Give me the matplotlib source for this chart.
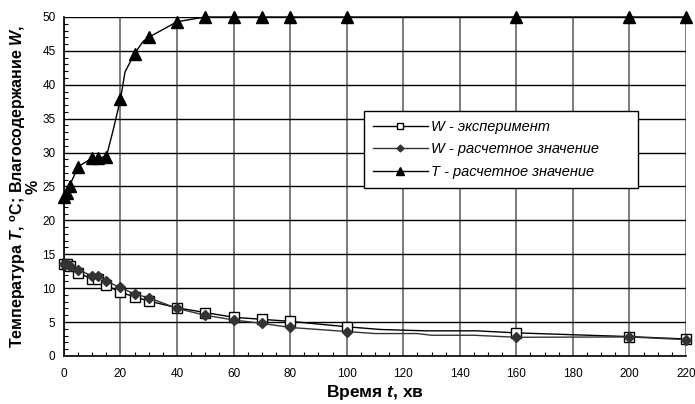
import numpy as np
import matplotlib.pyplot as plt
from matplotlib.ticker import MultipleLocator

plt.rcParams['font.family'] = ['Liberation Sans', 'DejaVu Sans']
plt.rcParams['mathtext.fontset'] = 'custom'
plt.rcParams['mathtext.rm'] = 'Liberation Sans:bold'
plt.rcParams['mathtext.it'] = 'Liberation Sans:italic:bold'

# W - experiment (line vertices, markers only at measured points)
t_wexp = [0, 1, 2, 5, 10, 12, 15, 20, 25, 30, 40, 50, 60, 70, 80, 100, 112, 128, 146, 160, 200, 220]
w_exp = [13.5, 13.5, 13.3, 12.3, 11.3, 11.3, 10.4, 9.4, 8.7, 8.1, 7.1, 6.4, 5.7, 5.4, 5.1, 4.3, 3.9, 3.7, 3.7, 3.4, 2.85, 2.5]
mk_wexp = [0, 1, 2, 3, 4, 5, 6, 7, 8, 9, 10, 11, 12, 13, 14, 15, 19, 20, 21]

# W - calculated
t_wcalc = [0, 1, 2, 5, 10, 12, 15, 20, 25, 30, 40, 50, 60, 70, 80, 100, 110, 125, 130, 145, 160, 200, 220]
w_calc = [13.6, 13.5, 13.3, 12.7, 11.8, 11.8, 11.0, 10.1, 9.1, 8.6, 7.0, 6.0, 5.3, 4.8, 4.2, 3.6, 3.3, 3.3, 3.05, 3.05, 2.75, 2.8, 2.4]
mk_wcalc = [0, 1, 2, 3, 4, 5, 6, 7, 8, 9, 10, 11, 12, 13, 14, 15, 20, 21, 22]

# T - calculated
t_temp = [0, 1, 2, 5, 10, 12, 15, 17.4, 20, 21.6, 25, 28, 30, 40, 50, 60, 70, 80, 100, 160, 200, 220]
temp = [23.5, 24.0, 25.1, 27.9, 29.2, 29.2, 29.4, 33.3, 37.9, 41.9, 44.6, 46.4, 47.0, 49.3, 50, 50, 50, 50, 50, 50, 50, 50]
mk_temp = [0, 1, 2, 3, 4, 5, 6, 8, 10, 12, 13, 14, 15, 16, 17, 18, 19, 20, 21]

fig = plt.figure(figsize=(6.95, 4.04), dpi=100)
ax = fig.add_axes([0.092, 0.119, 0.895, 0.839])

ax.plot(t_wexp, w_exp, color='black', lw=1, marker='s', ms=7, mfc='white', mec='black',
        mew=1, markevery=mk_wexp, clip_on=False, zorder=4, label='W - эксперимент')
ax.plot(t_wcalc, w_calc, color='#333333', lw=1, marker='D', ms=5, mfc='#333333', mec='#333333',
        markevery=mk_wcalc, clip_on=False, zorder=5, label='W - расчетное значение')
ax.plot(t_temp, temp, color='black', lw=1, marker='^', ms=8, mfc='black', mec='black',
        markevery=mk_temp, clip_on=False, zorder=5, label='T - расчетное значение')

ax.set_xlim(0, 220)
ax.set_ylim(0, 50)
ax.xaxis.set_major_locator(MultipleLocator(20))
ax.xaxis.set_minor_locator(MultipleLocator(5))
ax.yaxis.set_major_locator(MultipleLocator(5))
ax.yaxis.set_minor_locator(MultipleLocator(1))
ax.tick_params(which='major', direction='in', length=0, labelsize=8.5, pad=9)
ax.tick_params(which='minor', direction='in', length=3, width=0.8)
ax.tick_params(axis='y', pad=6)

ax.grid(axis='x', which='major', color='#666666', lw=1.2)
ax.grid(axis='y', which='major', color='black', lw=1)
ax.set_axisbelow(True)
for s in ['top', 'right']:
    ax.spines[s].set_visible(False)
ax.spines['left'].set_linewidth(1.2)
ax.spines['bottom'].set_linewidth(1.2)

ax.set_xlabel('Время $\\it{t}$, хв', fontsize=12.5, fontweight='bold', labelpad=2)
ax.set_ylabel('Температура $\\it{T}$, $^{\\rm{o}}$C; Влагосодержание $\\it{W}$,\n%',
              fontsize=11.5, fontweight='bold', labelpad=1, linespacing=0.85)

leg = ax.legend(loc='upper left', bbox_to_anchor=(0.482, 0.723, 0.4405, 0.0), mode='expand',
                prop={'style': 'italic', 'size': 10.5}, frameon=True, fancybox=False,
                edgecolor='black', handlelength=3.8, borderpad=0.6, labelspacing=0.6,
                handletextpad=0.2, framealpha=1, markerscale=0.7, borderaxespad=0)
leg.get_frame().set_linewidth(1)

fig.savefig('out.png', dpi=100)
